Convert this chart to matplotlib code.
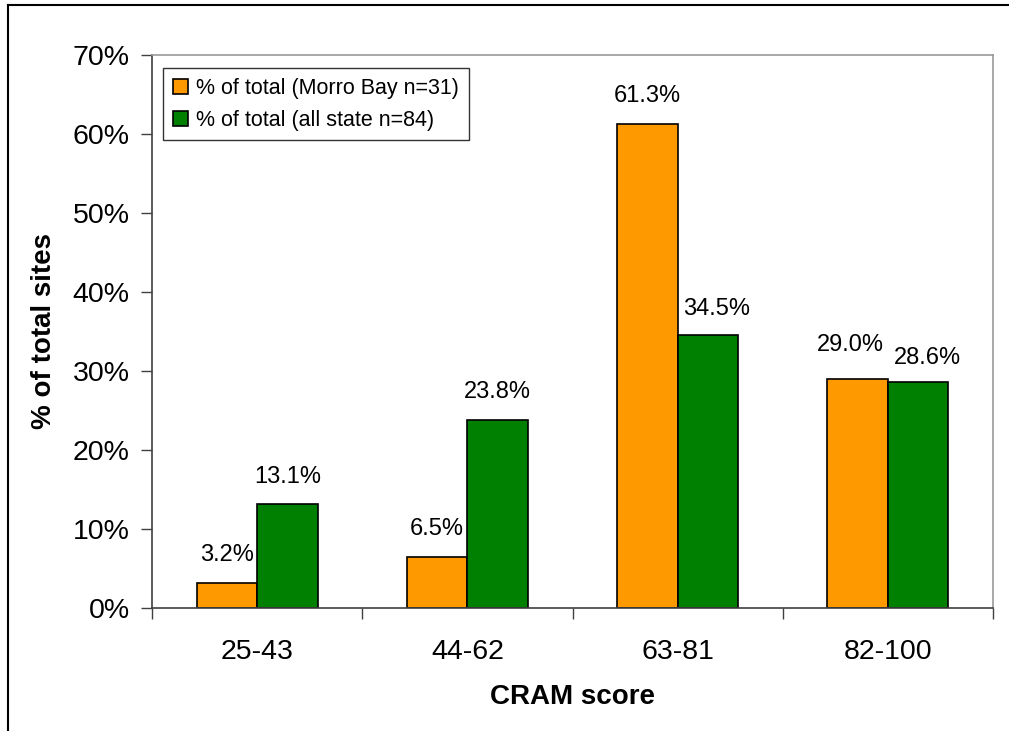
import numpy as np
import matplotlib
matplotlib.use("Agg")
from matplotlib import pyplot as plt
from matplotlib.lines import Line2D
from matplotlib.ticker import PercentFormatter

# CRAM score bins and share of sites per bin (percent)
categories = ["25-43", "44-62", "63-81", "82-100"]
morro_bay = [3.2, 6.5, 61.3, 29.0]
all_state = [13.1, 23.8, 34.5, 28.6]
series_names = ["% of total (Morro Bay n=31)", "% of total (all state n=84)"]

# label nudges in pixels (series, category) -> (dx, dy) so close labels don't collide
nudge = {(1, 2): (9, -1), (0, 3): (-7, 6), (1, 3): (9, -4)}

plt.rcParams['font.family'] = ['Liberation Sans', 'DejaVu Sans']

fig = plt.figure(figsize=(10.09, 7.31), dpi=100)
ax = fig.add_axes([0.1506, 0.1683, 0.8336, 0.7565])

x = np.arange(len(categories))
w = 0.288
b1 = ax.bar(x - w / 2, morro_bay, w, color="#FF9900", edgecolor="black", linewidth=1.2,
            label=series_names[0])
b2 = ax.bar(x + w / 2, all_state, w, color="#008000", edgecolor="black", linewidth=1.2,
            label=series_names[1])

for si, (bars, vals) in enumerate(((b1, morro_bay), (b2, all_state))):
    for ci, (rect, v) in enumerate(zip(bars, vals)):
        dx, dy = nudge.get((si, ci), (0, 0))
        ax.annotate("{:.1f}%".format(v), (rect.get_x() + rect.get_width() / 2, v),
                    xytext=(dx * 0.72, 12 + dy * 0.72), textcoords="offset points",
                    ha="center", va="bottom", fontsize=17)

ax.set_xlim(-0.5, len(categories) - 0.5)
ax.set_ylim(0, 70)
ax.yaxis.set_major_formatter(PercentFormatter(decimals=0))
ax.set_yticks(range(0, 71, 10))
ax.tick_params(axis="y", labelsize=20.5, length=8, width=1, color="#404040", pad=8)
ax.set_xticks(x)
ax.set_xticklabels(categories)
ax.set_xticks(np.arange(len(categories) + 1) - 0.5, minor=True)
ax.tick_params(axis="x", which="major", length=0, labelsize=20.5, pad=22)
ax.tick_params(axis="x", which="minor", length=8, width=1, color="#404040")

ax.spines["left"].set_color("#404040")
ax.spines["bottom"].set_color("#404040")
ax.spines["top"].set_color("#999999")
ax.spines["right"].set_color("#999999")
for s in ax.spines.values():
    s.set_linewidth(1.2)

ax.set_xlabel("CRAM score", fontsize=20, fontweight="bold", labelpad=14)
ax.set_ylabel("% of total sites", fontsize=20, fontweight="bold", labelpad=11)

leg = ax.legend(loc="upper left", bbox_to_anchor=(0.013, 0.976), fontsize=15.5,
                frameon=True, fancybox=False, edgecolor="black", borderpad=0.45,
                handlelength=0.7, handleheight=0.7, handletextpad=0.4,
                labelspacing=0.5, borderaxespad=0)
leg.get_frame().set_linewidth(1)

# chart frame: left and top edges
fig.add_artist(Line2D([8 / 1009, 8 / 1009], [0, 1 - 5 / 731], color="black", lw=1.5,
                      transform=fig.transFigure))
fig.add_artist(Line2D([8 / 1009, 1], [1 - 5 / 731, 1 - 5 / 731], color="black", lw=1.5,
                      transform=fig.transFigure))

fig.savefig("out.png", dpi=100)
